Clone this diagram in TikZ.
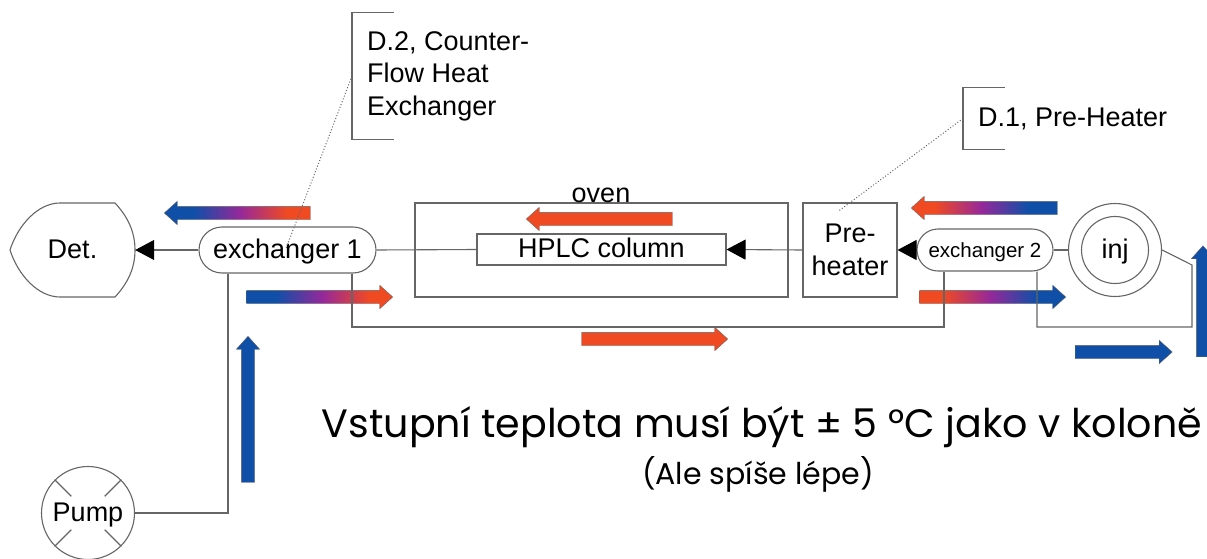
\documentclass[tikz,border=0pt]{standalone}
\usepackage{fontspec}
\setmainfont{Liberation Sans}
\newfontfamily\notefont{Poppins}
\usetikzlibrary{arrows.meta,calc,shapes.arrows,shapes.misc}
\definecolor{pipegray}{HTML}{666666}
\definecolor{coldblue}{HTML}{0F4FA8}
\definecolor{hotred}{HTML}{F04A23}
\definecolor{midpurple}{HTML}{96289A}
\pgfdeclarehorizontalshading{coldhotshade}{100bp}{color(0bp)=(coldblue); color(35bp)=(coldblue);
  color(51bp)=(midpurple); color(67bp)=(hotred); color(100bp)=(hotred)}
\pgfdeclarehorizontalshading{hotcoldshade}{100bp}{color(0bp)=(hotred); color(33bp)=(hotred);
  color(49bp)=(midpurple); color(65bp)=(coldblue); color(100bp)=(coldblue)}
\tikzset{
  pipe/.style={draw=pipegray,line width=1.1pt},
  tipped/.style={pipe,arrows={-Triangle[length=19pt,width=20pt,color=black]}},
  label27/.style={font=\fontsize{27}{32.5}\selectfont,text=black},
  boxnode/.style={pipe,label27,inner sep=0pt,align=center},
  pillnode/.style={boxnode,fill=white,rounded rectangle},
  ringnode/.style={boxnode,circle},
  oneline/.style={text height=#1,text depth=0pt},
  callout/.style={label27,anchor=west,align=left,inner ysep=0pt,inner xsep=15pt},
  flow/.style={single arrow,minimum width=22pt,minimum height=#1,inner sep=6.5pt,
    single arrow head extend=5pt,single arrow tip angle=84,
    draw=pipegray,line width=0.4pt},
  flow/.default=146pt,
  coldhot/.style={shading=coldhotshade},
  hotcold/.style={shading=hotcoldshade},
  note/.style={font=\notefont\fontsize{39.6}{44}\selectfont,text=black,anchor=base}
}
\begin{document}
\begin{tikzpicture}[x=1pt,y=-1pt]
    \clip (0,0) rectangle (1207,559);
    \fill[white] (0,0) rectangle (1207,559);

    % heat flow arrows
    \node [flow,coldhot,shape border rotate=180] (flowA) at (241,213) {};
    \node [flow,coldhot] (flowB) at (316,297) {};
    \node [flow,fill=hotred,shape border rotate=180] (flowC) at (603,219) {};
    \node [flow,fill=hotred] (flowD) at (651,339) {};
    \node [flow,hotcold,shape border rotate=180] (flowE) at (988,208) {};
    \node [flow,hotcold] (flowF) at (989,297) {};
    \node [flow=97pt,fill=coldblue] (flowG) at (1120,352) {};
    \node [flow=111pt,fill=coldblue,shape border rotate=90] (flowH) at (1203,305) {};
    \node [flow,fill=coldblue,shape border rotate=90] (flowI) at (248,413) {};

    % detector outline
    \node [label27,oneline=16pt,minimum width=125pt,minimum height=94pt,inner sep=0pt] (det) at (72.5,250) {Det.};
    \draw [pipe] (60,203) -- (115,203) .. controls (128,217) and (135,232) .. (135,250)
        .. controls (135,268) and (128,283) .. (115,297) -- (60,297)
        .. controls (38,297) and (18,275) .. (10,250) .. controls (18,225) and (38,203) .. (60,203);

    \node [pillnode,oneline=16pt,minimum width=177pt,minimum height=46pt] (exchangerA) at (287.5,250) {exchanger 1};
    \draw [tipped] (exchangerA.west) -- (det.east);

    \node [boxnode,minimum width=373pt,minimum height=94pt] (oven) at (601.5,250) {};
    \node [label27,anchor=base,inner sep=0pt] (ovenlabel) at (601,202) {oven};
    \node [boxnode,oneline=15pt,fill=white,minimum width=249pt,minimum height=31pt] (column) at (601.5,249.5) {HPLC column};
    \node [boxnode,minimum width=94pt,minimum height=94pt] (preheater) at (850,250) {Pre-\\heater};
    \node [pillnode,oneline=14pt,font=\fontsize{20.5}{24}\selectfont,minimum width=136pt,minimum height=42pt] (exchangerB) at (985,250) {exchanger 2};
    \node [ringnode,minimum size=93pt] (injector) at (1115,250) {};
    \node [ringnode,oneline=16pt,minimum size=67pt] (inj) at (1115,250) {inj};
    \node [ringnode,oneline=16pt,minimum size=93pt] (pump) at (88,513) {Pump};

    \draw [pipe] (column.west) -- (exchangerA.east);
    \draw [tipped] (preheater.west) -- (column.east);
    \draw [tipped] (exchangerB.west) -- (preheater.east);
    \draw [pipe] (exchangerB.east) -- (injector.west);

    \coordinate (busA) at (352,327);
    \coordinate (busB) at (1037,327);
    \coordinate (busC) at (1192,327);
    \coordinate (busD) at (1192,265);
    \coordinate (pumpbend) at (228,513);
    \draw [pipe] ([xshift=64.5pt]exchangerA.south) -- (busA) -- ([xshift=-41pt]exchangerB.south |- busA) -- ([xshift=-41pt]exchangerB.south);
    \draw [pipe] ([xshift=52pt]exchangerB.south) -- (busB) -- (busC) -- (busD) -- (injector.east);
    \draw [pipe] ([xshift=-59.5pt]exchangerA.south) -- (pumpbend) -- (pump.east);

    % pump ticks
    \foreach \corner in {north east,north west,south east,south west}
        \draw [pipe] (pump.\corner) -- ($(pump.center)!0.5!(pump.\corner)$);

    % callouts
    \node [callout,minimum height=126pt] (calloutA) at (352,76) {D.2, Counter-\\Flow Heat\\Exchanger};
    \draw [pipe] ([xshift=42pt]calloutA.north west) -- (calloutA.north west) -- (calloutA.south west) -- ([xshift=42pt]calloutA.south west);
    \draw [draw=pipegray,dotted,line width=1pt] (calloutA.west) -- ([xshift=-1.5pt,yshift=-22pt]exchangerA.north);

    \node [callout,oneline=17pt,minimum height=61pt] (calloutB) at (963,118.5) {D.1, Pre-Heater};
    \draw [pipe] ([xshift=42pt]calloutB.north west) -- (calloutB.north west) -- (calloutB.south west) -- ([xshift=42pt]calloutB.south west);
    \draw [draw=pipegray,dotted,line width=1pt] (calloutB.west) -- ([xshift=-12pt,yshift=-9pt]preheater.north);

    % note below
    \node [note] (noteA) at (762,437) {Vstupní teplota musí být ± 5 °C jako v koloně};
    \node [note,font=\notefont\fontsize{30}{34}\selectfont] (noteB) at (758,484) {(Ale spíše lépe)};
\end{tikzpicture}
\end{document}
